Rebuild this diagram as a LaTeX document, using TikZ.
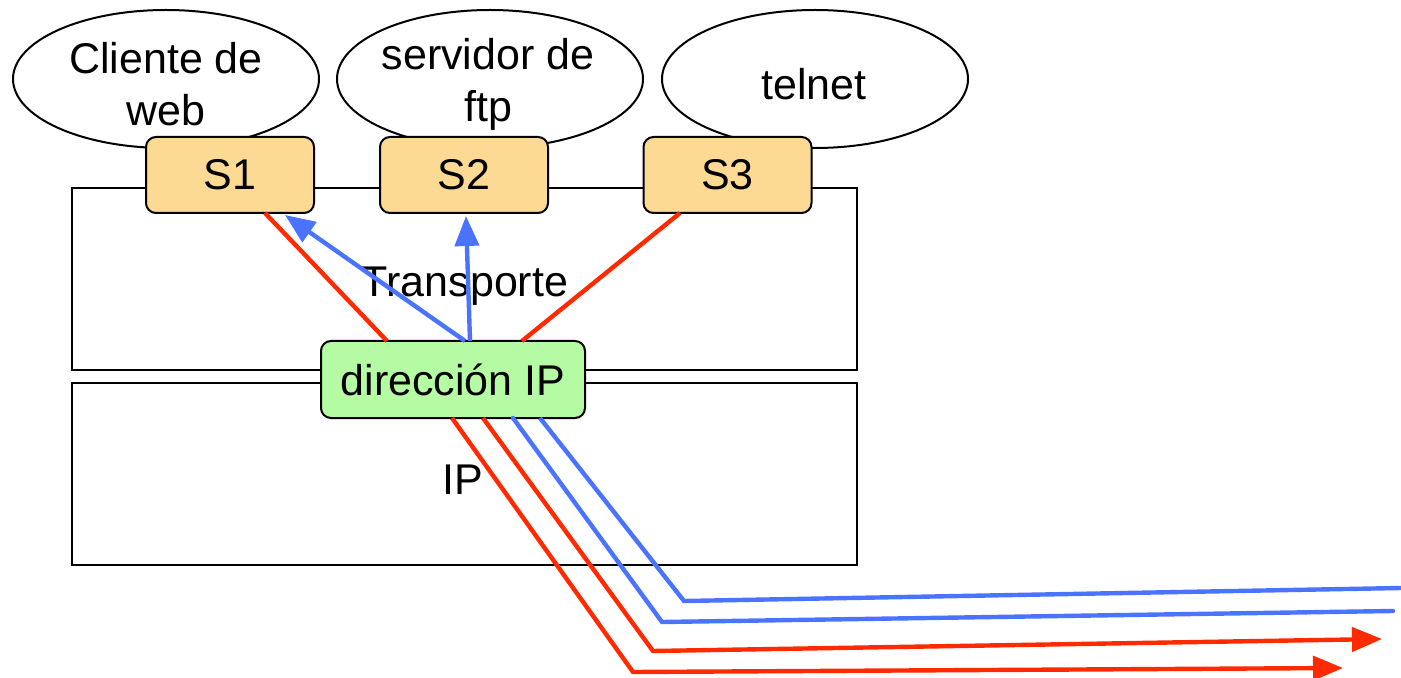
\documentclass[tikz,border=0pt]{standalone}
\usepackage{fontspec}
\setmainfont{Liberation Sans}
\usetikzlibrary{shapes.geometric,arrows.meta}
\definecolor{sfill}{HTML}{FDDA94}
\definecolor{ipfill}{HTML}{B4FBA3}
\definecolor{lred}{HTML}{FF2A00}
\definecolor{lblue}{HTML}{4A74FF}
\begin{document}
\begin{tikzpicture}[x=0.5pt,y=-0.5pt,
  every node/.style={font=\fontsize{21.5pt}{26pt}\selectfont},
  app/.style={draw=black,line width=1pt,ellipse,fill=white,inner sep=0pt,minimum width=153pt,minimum height=69pt},
  apptext/.style={align=center,inner sep=0pt},
  sock/.style={draw=black,line width=1pt,rounded corners=5pt,fill=sfill,inner sep=0pt,minimum width=84pt,minimum height=38pt},
  ipbox/.style={draw=black,line width=1pt,rounded corners=5pt,fill=ipfill,inner sep=0pt,minimum width=132pt,minimum height=38.5pt},
  layer/.style={draw=black,line width=1pt},
  redl/.style={draw=lred,line width=2.2pt},
  bluel/.style={draw=lblue,line width=2.2pt},
  tip/.style={-{Triangle[length=15pt,width=12pt]}}
]
\useasboundingbox (0,0) rectangle (1401,678);
% layers
\draw[layer] (72,188) rectangle (857,370);
\draw[layer] (72,383) rectangle (857,565);
\node (tr) at (465,286) {Transporte};
\node (iplab) at (463,480) {IP};
% applications
\node[app] (web) at (166,79) {};
\node[app] (ftp) at (490,79) {};
\node[app] (tel) at (815,79) {};
\node[apptext] (webt) at (166,84) {Cliente de\\web};
\node[apptext] (ftpt) at (488,84) {servidor de\\ftp};
\node[apptext] (telt) at (814,84) {telnet};
% sockets
\node[sock] (s1) at (230,175) {S1};
\node[sock] (s2) at (464,175) {S2};
\node[sock] (s3) at (727.5,175) {S3};
% IP address
\node[ipbox] (ip) at (453,379.5) {dirección IP};
% connectors up
\coordinate (r1a) at (265,213);
\coordinate (r1b) at (387,341);
\coordinate (r2a) at (680,213);
\coordinate (r2b) at (522,341);
\coordinate (b1a) at (465,341);
\coordinate (b1b) at (285,215);
\coordinate (b2a) at (470,341);
\coordinate (b2b) at (466,216);
\draw[redl] (r1a) -- (r1b);
\draw[redl] (r2a) -- (r2b);
\draw[bluel,tip] (b1a) -- (b1b);
\draw[bluel,tip] (b2a) -- (b2b);
% connectors down
\coordinate (d1) at (452,418);
\coordinate (d2) at (483,418);
\coordinate (d3) at (513,418);
\coordinate (d4) at (540,418);
\coordinate (c1) at (633,672);
\coordinate (c2) at (653,651);
\coordinate (c3) at (662,622);
\coordinate (c4) at (684,601);
\coordinate (e1) at (1343,668);
\coordinate (e2) at (1382,639);
\coordinate (e3) at (1393,611);
\coordinate (e4) at (1401,588);
\draw[redl,tip] (d1) -- (c1) -- (e1);
\draw[redl,tip] (d2) -- (c2) -- (e2);
\draw[bluel,line cap=round] (d3) -- (c3) -- (e3);
\draw[bluel] (d4) -- (c4) -- (e4);
\end{tikzpicture}
\end{document}
